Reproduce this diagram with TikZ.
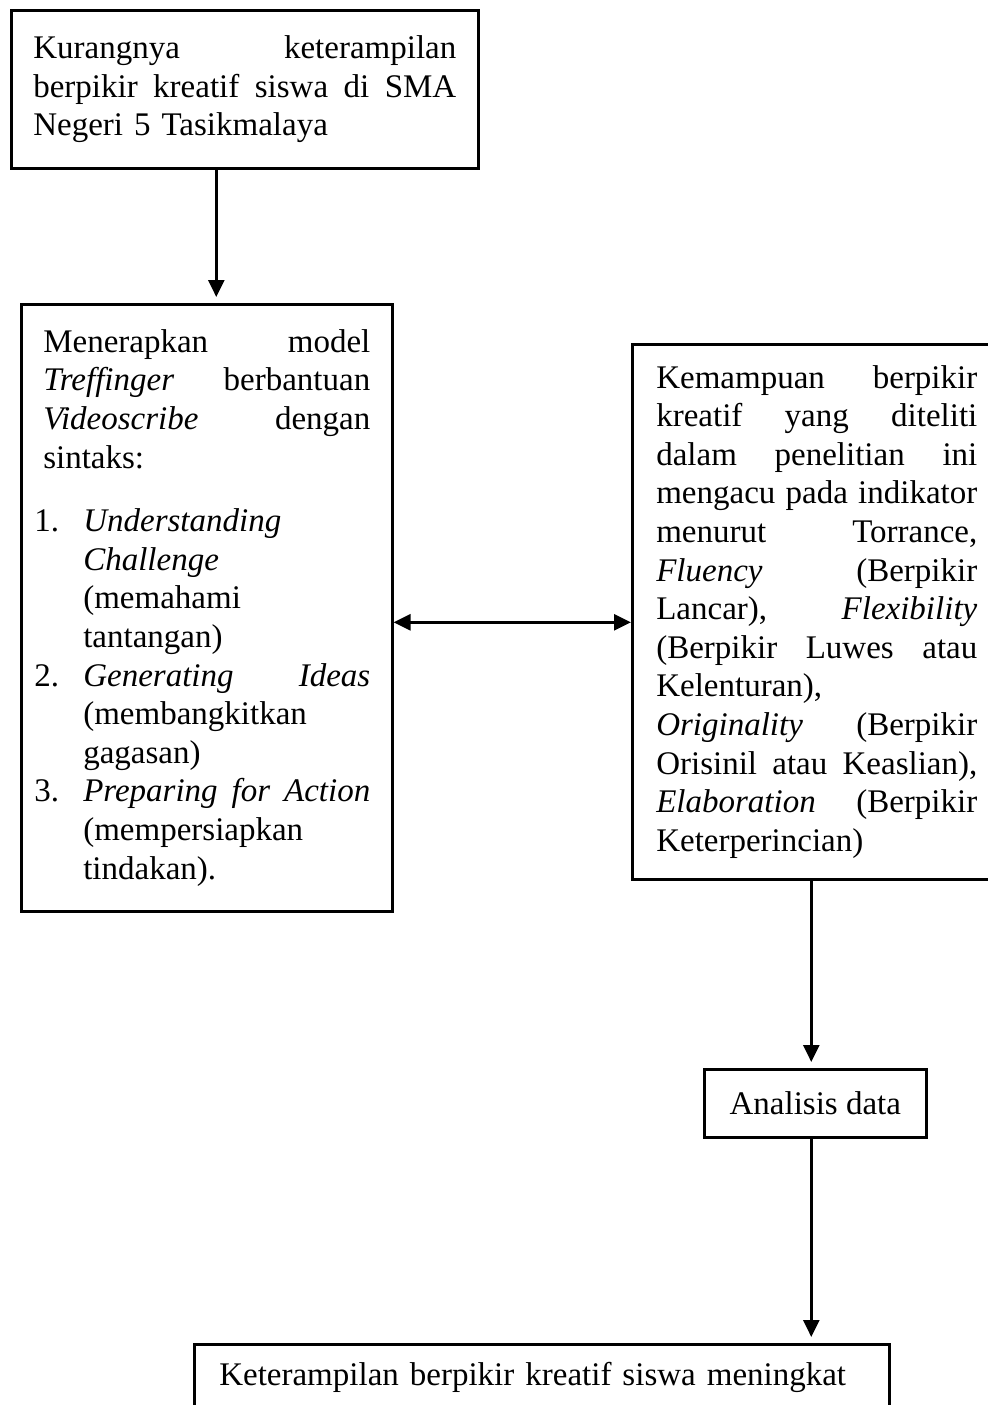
\documentclass[tikz,border=0pt]{standalone}
\usepackage{fontspec}
\setmainfont{Liberation Serif}
\usetikzlibrary{arrows.meta}

% justified line, numbered step line, hanging line
\newcommand{\jl}[2][\hsize]{\makebox[#1][s]{\spaceskip=\fontdimen2\font plus 1fil\relax #2}}
\newcommand{\stepline}[2]{\hspace*{-4.5pt}\makebox[24.5pt][l]{#1}#2}
\newcommand{\hangline}[1]{\hspace*{20pt}#1}

\tikzset{
  box/.style={draw=black, line width=1.3pt, inner xsep=11pt, inner ysep=0pt,
    align=left, anchor=north west, font=\fontsize{16.5}{19.3}\selectfont},
  arr/.style={-{Triangle[length=8.5pt,width=8pt]}, line width=1.3pt, shorten >=3pt},
  dblarr/.style={{Triangle[length=8.5pt,width=8pt]}-{Triangle[length=8.5pt,width=8pt]}, line width=1.3pt}
}

\begin{document}
\begin{tikzpicture}[x=0.5pt,y=-0.5pt]
  \useasboundingbox (0,0) rectangle (988,1405);

  \node[box, text width=211.5pt, minimum height=79pt] (problem) at (10,9)
    {\jl{Kurangnya keterampilan}\\
     \jl{berpikir kreatif siswa di SMA}\\
     Negeri 5 Tasikmalaya\\[5pt]};

  \node[box, text width=163.5pt, minimum height=303.5pt] (model) at (20,303)
    {\jl{Menerapkan model}\\
     \jl{\textit{Treffinger} berbantuan}\\
     \jl{\textit{Videoscribe} dengan}\\
     sintaks:\\[12.5pt]
     \stepline{1.}{\textit{Understanding}}\\
     \hangline{\textit{Challenge}}\\
     \hangline{(memahami}\\
     \hangline{tantangan)}\\
     \stepline{2.}{\jl[143.5pt]{\textit{Generating Ideas}}}\\
     \hangline{(membangkitkan}\\
     \hangline{gagasan)}\\
     \stepline{3.}{\jl[143.5pt]{\textit{Preparing for Action}}}\\
     \hangline{(mempersiapkan}\\
     \hangline{tindakan).}};

  \node[box, inner xsep=12pt, text width=160.5pt, minimum height=267.5pt] (indicator) at (631,343)
    {\jl{Kemampuan berpikir}\\
     \jl{kreatif yang diteliti}\\
     \jl{dalam penelitian ini}\\
     \jl{mengacu pada indikator}\\
     \jl{menurut Torrance,}\\
     \jl{\textit{Fluency} (Berpikir}\\
     \jl{Lancar), \textit{Flexibility}}\\
     \jl{(Berpikir Luwes atau}\\
     Kelenturan),\\
     \jl{\textit{Originality} (Berpikir}\\
     \jl{Orisinil atau Keaslian),}\\
     \jl{\textit{Elaboration} (Berpikir}\\
     Keterperincian)};

  \node[box, align=center, minimum width=111pt, minimum height=34pt, inner xsep=0pt] (analysis) at (703,1068)
    {Analisis data};

  \node[box, text width=322.5pt, inner xsep=12.5pt, minimum height=33pt] (result) at (193,1343)
    {Keterampilan berpikir kreatif siswa meningkat};

  % connectors
  \draw[arr] ([xshift=-14.25pt]problem.south) -- ([xshift=-14.25pt]problem.south |- model.north);
  \draw[dblarr] ([yshift=-7.25pt]model.east) -- ([yshift=-7.25pt]model.east -| indicator.west);
  \draw[arr] ([xshift=-2pt]analysis.north |- indicator.south) -- ([xshift=-2pt]analysis.north);
  \draw[arr] ([xshift=-2pt]analysis.south) -- ([xshift=-2pt]analysis.south |- result.north);
\end{tikzpicture}
\end{document}
